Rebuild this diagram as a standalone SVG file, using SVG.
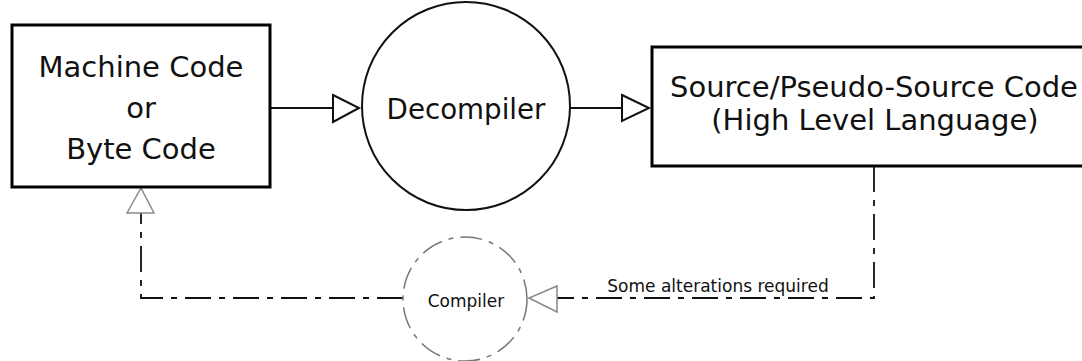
<svg xmlns="http://www.w3.org/2000/svg" width="1082" height="361" viewBox="0 0 1082 361">
  <defs>
    <style>
      .box { fill: #fff; stroke: #000; stroke-width: 3; }
      .proc { fill: #fff; stroke: #111; stroke-width: 2; }
      .proc-dashed { fill: none; stroke: #777; stroke-width: 1.5; stroke-dasharray: 22 7 5 7; }
      .label { font-family: "DejaVu Sans", "Liberation Sans", sans-serif; fill: #111; text-anchor: middle; }
      .big { font-size: 29px; }
      .mid { font-size: 27.7px; }
      .small { font-size: 17px; }
      .flow { fill: none; stroke: #111; stroke-width: 2; }
      .back { fill: none; stroke: #111; stroke-width: 1.8; stroke-dasharray: 26 8 6 8; }
      .head { fill: #fff; stroke: #111; stroke-width: 2; stroke-linejoin: miter; }
      .head-grey { fill: #fff; stroke: #888; stroke-width: 1.5; stroke-linejoin: miter; }
    </style>
  </defs>
  <rect width="1082" height="361" fill="#fff"/>

  <!-- connectors -->
  <g id="connectors">
    <!-- machine code -> decompiler -->
    <line class="flow" x1="270" y1="108" x2="333" y2="108"/>
    <polygon class="head" points="333,95 359,108 333,122"/>
    <!-- decompiler -> source -->
    <line class="flow" x1="570" y1="108" x2="622" y2="108"/>
    <polygon class="head" points="622,95 649,108 622,121"/>
    <!-- source -> compiler (alterations) -->
    <polyline class="back" points="874,166 874,298 557,298"/>
    <polygon class="head-grey" points="557,286 529,298 557,312"/>
    <!-- compiler -> machine code -->
    <polyline class="back" points="403,298 141,298 141,213"/>
    <polygon class="head-grey" points="127,213 141,188 154,213"/>
    <text class="label small" x="718" y="292">Some alterations required</text>
  </g>

  <g id="machine-code">
    <rect class="box" x="12" y="25" width="258" height="162"/>
    <text class="label big" x="141" y="77">Machine Code</text>
    <text class="label big" x="141" y="118">or</text>
    <text class="label big" x="141" y="159">Byte Code</text>
  </g>

  <g id="decompiler">
    <circle class="proc" cx="466" cy="106" r="104"/>
    <text class="label mid" x="466" y="119">Decompiler</text>
  </g>

  <g id="source-code">
    <rect class="box" x="652" y="47" width="440" height="119"/>
    <text class="label big" x="874" y="97">Source/Pseudo-Source Code</text>
    <text class="label big" x="875" y="130">(High Level Language)</text>
  </g>

  <g id="compiler">
    <circle class="proc-dashed" cx="465" cy="299" r="62"/>
    <text class="label small" x="466" y="307">Compiler</text>
  </g>
</svg>
